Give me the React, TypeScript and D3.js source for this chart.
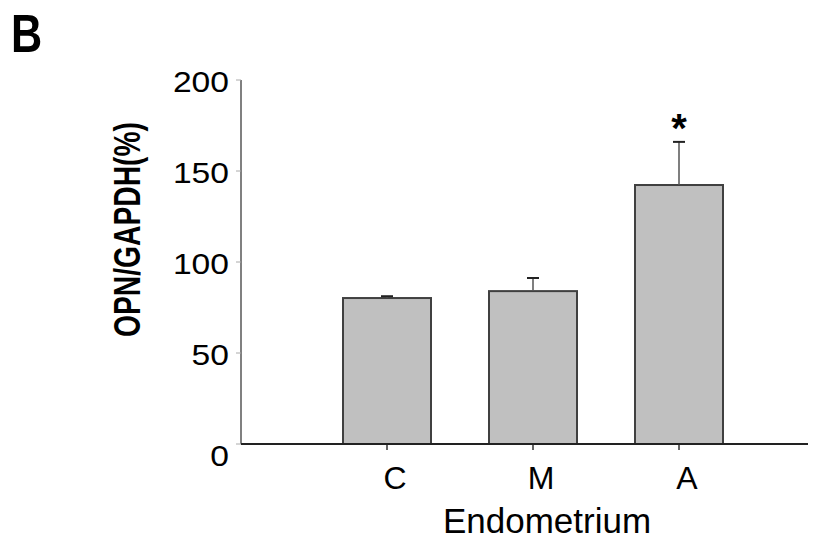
import React from "react";
import * as d3 from "d3";

const categories = ["C", "M", "A"];
const values = [80.2, 84, 142.3];
const errors = [1, 7.2, 23.7];
const yTicks = [0, 50, 100, 150, 200];

export default function App() {
  const W = 816, H = 542;
  const y = d3.scaleLinear().domain([0, 200]).range([444, 80]);
  const x = d3.scalePoint<string>().domain(categories).range([387, 679]);
  const bw = 88;
  const axisX = 241;
  const font = "Arial, 'Liberation Sans', sans-serif";
  return (
    <svg width={W} height={H} style={{ position: "absolute", left: 0, top: 0, background: "#fff" }}>
      <text transform="translate(11,52) scale(0.8,1)" fontFamily={font} fontWeight="bold" fontSize={54}>B</text>
      {categories.map((c, i) => {
        const cx = x(c)!;
        const top = y(values[i]);
        const et = y(values[i] + errors[i]);
        return (
          <g key={c}>
            <rect x={cx - bw / 2} y={top} width={bw} height={y(0) - top} fill="#c0c0c0" stroke="#404040" strokeWidth={2} />
            <line x1={cx} x2={cx} y1={top} y2={et} stroke="#555" strokeWidth={1.5} />
            <line x1={cx - 6} x2={cx + 6} y1={et} y2={et} stroke="#222" strokeWidth={2} />
            <line x1={cx} x2={cx} y1={444} y2={450} stroke="#333" strokeWidth={1.5} />
            <text x={cx + 8} y={489} textAnchor="middle" fontFamily={font} fontSize={32}>{c}</text>
          </g>
        );
      })}
      <text x={x("A")!} y={y(values[2] + errors[2])} textAnchor="middle" fontFamily={font} fontWeight="bold" fontSize={40}>*</text>
      <line x1={axisX} x2={axisX} y1={80} y2={444} stroke="#808080" strokeWidth={2} />
      <line x1={axisX} x2={808} y1={444} y2={444} stroke="#222" strokeWidth={2} />
      {yTicks.map(t => (
        <g key={t}>
          <line x1={axisX - 5} x2={axisX} y1={y(t)} y2={y(t)} stroke="#aaa" strokeWidth={1} />
          <text x={229} y={y(t) + (t === 0 ? 22 : 12)} textAnchor="end" fontFamily={font} fontSize={30}
            textLength={String(t).length * 18.7} lengthAdjust="spacingAndGlyphs">{t}</text>
        </g>
      ))}
      <text transform={`translate(140,229.5) rotate(-90)`} textAnchor="middle" fontFamily={font} fontWeight="bold" fontSize={36}
        textLength={215} lengthAdjust="spacingAndGlyphs">OPN/GAPDH(%)</text>
      <text x={547} y={533} textAnchor="middle" fontFamily={font} fontSize={35}>Endometrium</text>
    </svg>
  );
}
